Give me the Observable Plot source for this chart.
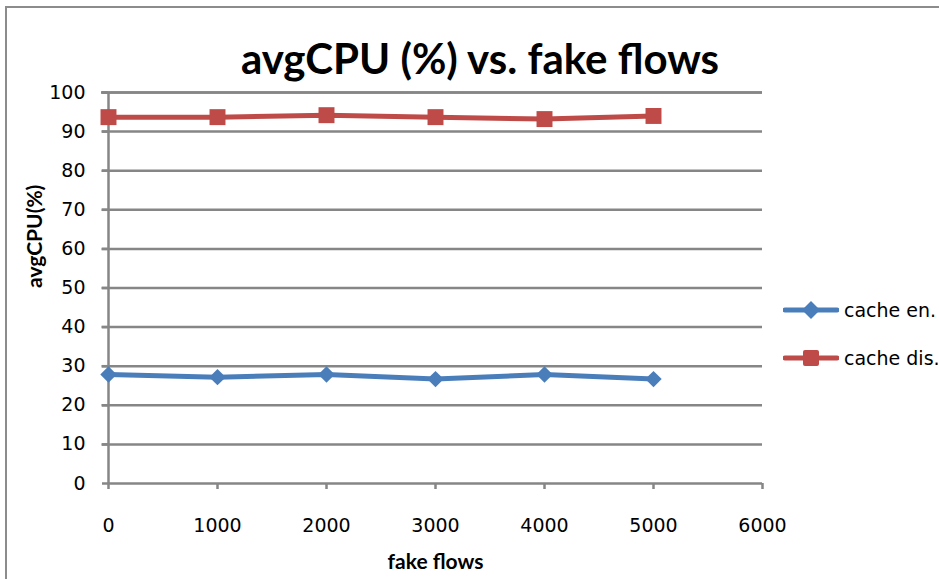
<!DOCTYPE html>
<html>
<head>
<meta charset="utf-8">
<script src="https://cdn.jsdelivr.net/npm/d3@7"></script>
<script src="https://cdn.jsdelivr.net/npm/@observablehq/plot@0.6"></script>
<style>
  html, body { margin: 0; padding: 0; background: #fff; overflow: hidden; }
  #wrap { position: relative; width: 939px; height: 579px; font-family: Lato, "Open Sans", sans-serif; }
  #frame { position: absolute; left: 5px; top: 6px; width: 1000px; height: 700px; border-left: 2px solid #8c8c8c; border-top: 2px solid #8c8c8c; box-sizing: border-box; }
  #title { position: absolute; left: 0; width: 960px; top: 33px; text-align: center; font-size: 42px; font-weight: bold; color: #000; white-space: nowrap; }
  #chart { position: absolute; left: 0; top: 0; }
  .leg { position: absolute; left: 783px; font-family: "DejaVu Sans", sans-serif; font-size: 19px; color: #000; display: flex; align-items: center; white-space: nowrap; }
  .leg svg { margin-right: 5px; }
</style>
</head>
<body>
<div id="wrap">
  <div id="frame"></div>
  <div id="chart"></div>
  <div id="title">avgCPU (%) vs. fake flows</div>
  <div class="leg" style="top:298px"><svg width="56" height="24"><line x1="2" y1="12" x2="54" y2="12" stroke="#4A7EBB" stroke-width="5" stroke-linecap="round"/><path d="M28,3 L37,12 L28,21 L19,12Z" fill="#4A7EBB"/></svg>cache en.</div>
  <div class="leg" style="top:346px"><svg width="56" height="24"><line x1="2" y1="12" x2="54" y2="12" stroke="#BE4B48" stroke-width="5" stroke-linecap="round"/><rect x="20" y="4" width="16" height="16" rx="2" fill="#BE4B48"/></svg>cache dis.</div>
</div>
<script>
const fakeFlows = [0, 1000, 2000, 3000, 4000, 5000];
const cacheEn = [27.9, 27.2, 27.9, 26.7, 27.9, 26.7];
const cacheDis = [93.7, 93.7, 94.2, 93.7, 93.2, 94.0];
const xTicks = [0, 1000, 2000, 3000, 4000, 5000, 6000];
const yTicks = [0, 10, 20, 30, 40, 50, 60, 70, 80, 90, 100];

const en = fakeFlows.map((x, i) => ({x, y: cacheEn[i]}));
const dis = fakeFlows.map((x, i) => ({x, y: cacheDis[i]}));

const grey = "#868686";
const tickFont = "'DejaVu Sans', sans-serif";
const chart = Plot.plot({
  width: 939,
  height: 579,
  marginLeft: 108,
  marginRight: 177,
  marginTop: 92,
  marginBottom: 96,
  style: {fontFamily: "Lato, 'Open Sans', sans-serif", fontSize: "19px", color: "#000", background: "transparent", overflow: "visible"},
  x: {domain: [0, 6000], ticks: xTicks, tickFormat: d => String(d)},
  y: {domain: [0, 100], ticks: yTicks, tickFormat: d => String(d)},
  marks: [
    Plot.gridY(yTicks.filter(d => d > 0), {stroke: grey, strokeOpacity: 1, strokeWidth: 2.5, x1: -60, x2: 6000}),
    Plot.ruleY([100], {x1: 0, x2: 6000, stroke: grey, strokeWidth: 2.5, insetLeft: -7}),
    Plot.axisX({ticks: xTicks, tickSize: 6, tickPadding: 29, stroke: grey, strokeWidth: 2.5, strokeOpacity: 1, label: null, tickFormat: d => String(d), fontSize: 19, fontFamily: tickFont}),
    Plot.axisY({ticks: yTicks, tickSize: 6, tickPadding: 17, stroke: grey, strokeWidth: 2.5, strokeOpacity: 1, label: null, tickFormat: d => String(d), fontSize: 19, fontFamily: tickFont}),
    Plot.ruleY([0], {stroke: grey, strokeWidth: 2.5}),
    Plot.ruleX([0], {stroke: grey, strokeWidth: 2.5}),
    Plot.text(["fake flows"], {frameAnchor: "bottom", dy: 85, fontWeight: "bold", fontSize: 21}),
    Plot.text(["avgCPU(%)"], {frameAnchor: "left", dx: -73, rotate: -90, fontWeight: "bold", fontSize: 21}),
    Plot.line(dis, {x: "x", y: "y", stroke: "#BE4B48", strokeWidth: 5}),
    Plot.dot(dis, {x: "x", y: "y", symbol: "square", r: 9, fill: "#BE4B48", stroke: "none"}),
    Plot.line(en, {x: "x", y: "y", stroke: "#4A7EBB", strokeWidth: 5}),
    Plot.dot(en, {x: "x", y: "y", symbol: "diamond2", r: 7.4, fill: "#4A7EBB", stroke: "none"})
  ]
});
document.getElementById("chart").appendChild(chart);
</script>
</body>
</html>
